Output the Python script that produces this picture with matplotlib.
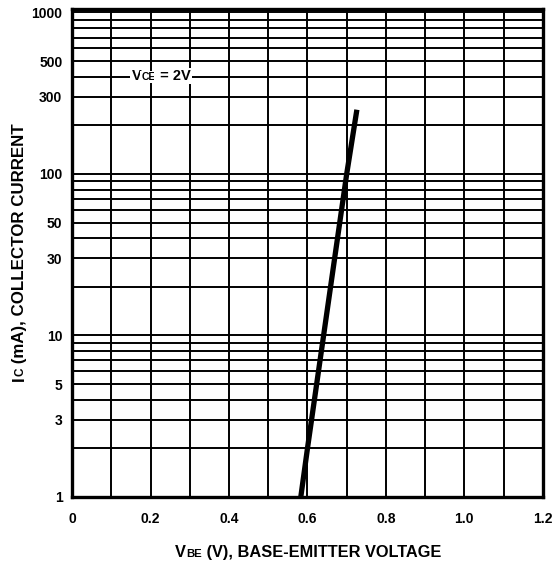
import numpy as np
import matplotlib
matplotlib.use("Agg")
import matplotlib.pyplot as plt

plt.rcParams['font.family'] = ['Liberation Sans', 'DejaVu Sans']

# data
vbe = [0.583, 0.600, 0.700, 0.726]
ic = [1.0, 2.0, 100.0, 250.0]

x_ticks = [0, 0.2, 0.4, 0.6, 0.8, 1.0, 1.2]
x_ticklabels = ["0", "0.2", "0.4", "0.6", "0.8", "1.0", "1.2"]
y_ticks = [1, 3, 5, 10, 30, 50, 100, 300, 500, 1000]
y_ticklabels = ["1", "3", "5", "10", "30", "50", "100", "300", "500", "1000"]

W, H = 555, 567
fig = plt.figure(figsize=(W / 100, H / 100), dpi=100)
ax = fig.add_axes([0.130, 0.1235, 0.848, 0.8605])
ax.set_yscale('log')
ax.set_xlim(0, 1.2)
ax.set_ylim(1, 1050)

# grid
for xv in np.arange(1, 12) * 0.1:
    ax.axvline(xv, color='black', lw=1.4, zorder=1)
for dec in [1, 10, 100]:
    for m in range(1, 10):
        ax.axhline(dec * m, color='black', lw=1.4, zorder=1)
ax.axhline(1000, color='black', lw=1.4, zorder=1)

ax.plot(vbe, ic, color='black', lw=3.8, solid_capstyle='butt', zorder=3)

ax.set_xticks(x_ticks)
ax.set_xticklabels(x_ticklabels, fontsize=10, fontweight='bold')
ax.set_yticks(y_ticks)
ax.set_yticklabels(y_ticklabels, fontsize=10, fontweight='bold')
ax.yaxis.set_minor_locator(matplotlib.ticker.NullLocator())
ax.tick_params(axis='x', length=0, pad=11)
ax.tick_params(axis='y', length=0, pad=7)

for s in ax.spines.values():
    s.set_linewidth(2.4)
    s.set_zorder(5)

fig.canvas.draw()
renderer = fig.canvas.get_renderer()


def place_pieces(pieces, cx, by, rotation=0, bbox=None, zorder=6):
    """pieces: list of (text, size); cx: centre (px, from left), by: baseline (px, from top)."""
    widths = []
    for txt, size in pieces:
        t = fig.text(0, 0, txt, fontsize=size, fontweight='bold')
        widths.append(t.get_window_extent(renderer).width)
        t.remove()
    total = sum(widths)
    pos = -total / 2
    for (txt, size), w in zip(pieces, widths):
        if rotation == 0:
            x, y = cx + pos, by
        else:
            x, y = cx, by - pos  # going up the page
        fig.text(x / W, 1 - y / H, txt, fontsize=size, fontweight='bold',
                 rotation=rotation, rotation_mode='anchor', ha='left', va='baseline',
                 zorder=zorder, bbox=bbox)
        pos += w


place_pieces([("V", 11.8), ("BE", 8.2), (" (V), BASE-EMITTER VOLTAGE", 11.8)], 308, 557)
place_pieces([("I", 12.2), ("C", 8.5), (" (mA), COLLECTOR CURRENT", 12.2)], 24, 252, rotation=90)
place_pieces([("V", 10.5), ("CE", 7.5), (" = 2V", 10.5)], 161, 80,
             bbox=dict(facecolor='white', edgecolor='none', pad=1.0))

fig.savefig("out.png", dpi=100)
